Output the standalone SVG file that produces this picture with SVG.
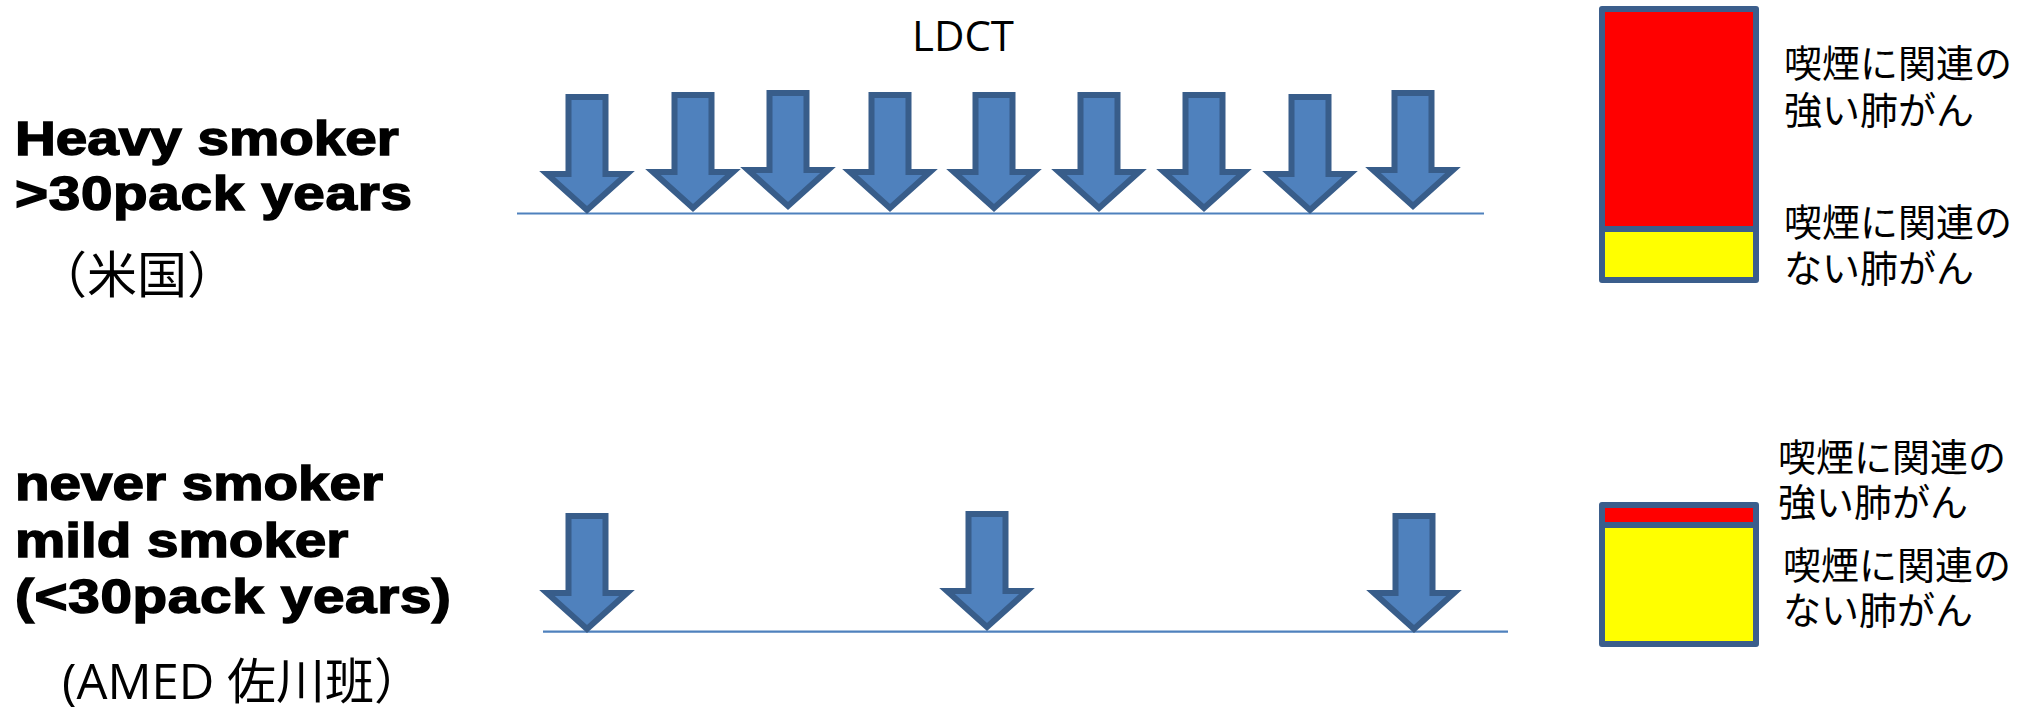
<svg xmlns="http://www.w3.org/2000/svg" xmlns:xlink="http://www.w3.org/1999/xlink" width="2029" height="713" viewBox="0 0 2029 713">
  <style>
    .group-label { font-family: "Liberation Sans", Arial, sans-serif; font-weight: bold; font-size: 49px; fill: #000; stroke: #000; stroke-width: 1.5px; }
    .note { font-family: "Open Sans", "Noto Sans CJK JP", sans-serif; font-size: 49px; fill: #000; }
    .jp { font-family: "Noto Sans CJK JP", sans-serif; font-size: 38px; fill: #000; }
    .timeline { stroke: #4F81BD; stroke-width: 2.2; fill: none; }
    .scan { fill: #4F81BD; stroke: #385D8A; stroke-width: 6; stroke-linejoin: miter; }
    .box { stroke: #3B5E8C; stroke-width: 6; stroke-linejoin: round; }
    .strong { fill: #FF0000; }
    .weak { fill: #FFFF00; }
  </style>
  <defs>
    <!-- block arrow, origin at top centre of the shaft -->
    <path id="scan-arrow" class="scan" d="M-18.5,0 H18.5 V77 H40 L0,113 L-40,77 H-18.5 Z"/>
  </defs>

  <rect width="2029" height="713" fill="#FFFFFF"/>

  <!-- row labels (heavy sans, widened) -->
  <g id="label-heavy">
    <text class="group-label" transform="translate(15 0) scale(1.155 1)">
      <tspan x="0" y="155">Heavy smoker</tspan>
      <tspan x="0" y="210" style="letter-spacing:0.6px">&gt;30pack years</tspan>
    </text>
    <text class="jp" x="37" y="293" style="font-size:50px">（米国）</text>
  </g>
  <g id="label-light">
    <text class="group-label" transform="translate(15 0) scale(1.155 1)">
      <tspan x="0" y="500">never smoker</tspan>
      <tspan x="0" y="557">mild smoker</tspan>
      <tspan x="0" y="613" style="letter-spacing:0.6px">(&lt;30pack years)</tspan>
    </text>
    <text class="note" x="62" y="699">(AMED 佐川班）</text>
  </g>

  <g id="title-ldct">
    <text class="note" x="963" y="51" text-anchor="middle" style="font-size:42px">LDCT</text>
  </g>

  <!-- time axes -->
  <g id="connectors">
    <line class="timeline" x1="517" y1="213.5" x2="1484" y2="213.5"/>
    <line class="timeline" x1="543" y1="631.7" x2="1508" y2="631.7"/>
  </g>

  <!-- annual screening -->
  <g id="scan-heavy-1"><use xlink:href="#scan-arrow" x="587" y="97"/></g>
  <g id="scan-heavy-2"><use xlink:href="#scan-arrow" x="693" y="95"/></g>
  <g id="scan-heavy-3"><use xlink:href="#scan-arrow" x="788" y="93"/></g>
  <g id="scan-heavy-4"><use xlink:href="#scan-arrow" x="890" y="95"/></g>
  <g id="scan-heavy-5"><use xlink:href="#scan-arrow" x="994" y="95"/></g>
  <g id="scan-heavy-6"><use xlink:href="#scan-arrow" x="1099" y="95"/></g>
  <g id="scan-heavy-7"><use xlink:href="#scan-arrow" x="1204" y="95"/></g>
  <g id="scan-heavy-8"><use xlink:href="#scan-arrow" x="1310" y="97"/></g>
  <g id="scan-heavy-9"><use xlink:href="#scan-arrow" x="1413" y="93"/></g>

  <!-- sparse screening -->
  <g id="scan-light-1"><use xlink:href="#scan-arrow" x="587" y="516"/></g>
  <g id="scan-light-2"><use xlink:href="#scan-arrow" x="987" y="514"/></g>
  <g id="scan-light-3"><use xlink:href="#scan-arrow" x="1414" y="516"/></g>

  <!-- proportion bars -->
  <g id="bar-heavy">
    <rect class="box strong" x="1602" y="9" width="154" height="220"/>
    <rect class="box weak" x="1602" y="229" width="154" height="51"/>
  </g>
  <g id="legend-heavy">
    <text class="jp"><tspan x="1784" y="77">喫煙に関連の</tspan><tspan x="1784" y="124">強い肺がん</tspan></text>
    <text class="jp"><tspan x="1784" y="236">喫煙に関連の</tspan><tspan x="1784" y="282">ない肺がん</tspan></text>
  </g>

  <g id="bar-light">
    <rect class="box strong" x="1602" y="505" width="154" height="20"/>
    <rect class="box weak" x="1602" y="525" width="154" height="119"/>
  </g>
  <g id="legend-light">
    <text class="jp"><tspan x="1778" y="471">喫煙に関連の</tspan><tspan x="1778" y="516">強い肺がん</tspan></text>
    <text class="jp"><tspan x="1783" y="579">喫煙に関連の</tspan><tspan x="1783" y="624">ない肺がん</tspan></text>
  </g>
</svg>
